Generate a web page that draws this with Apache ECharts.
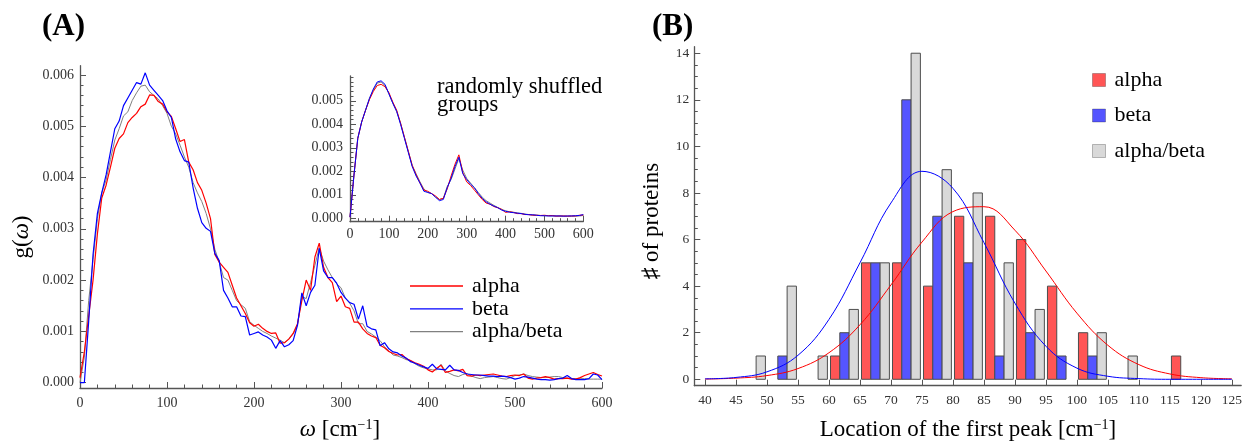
<!DOCTYPE html>
<html>
<head>
<meta charset="utf-8">
<script src="https://cdn.jsdelivr.net/npm/echarts@6/dist/echarts.min.js"></script>
<style>
  html, body { margin: 0; padding: 0; background: #fff; }
  #chart { width: 1245px; height: 447px; }
</style>
</head>
<body>
<div id="chart"></div>
<script>
// ---------- data ----------
// panel A: g(omega), values in units of 1e-4, omega = 0..600 step 5
const omega = [];
for (let w = 0; w <= 600; w += 5) omega.push(w);

const alphaMain = [
  1, 6, 13, 20, 29, 36, 38.5, 42, 45.7, 47.6,
  48.5, 50.7, 51.7, 52.5, 53.8, 54.3, 56.1, 56, 54.8, 54.3,
  52.8, 51.9, 49.5, 47, 47.4, 43, 41.5, 39, 37.5, 35,
  32, 25, 23.5, 22.5, 21.5, 19, 16.5, 15, 13.5, 11.7,
  11, 11.4, 10.6, 10, 9.6, 9.7, 7.7, 7.8, 8.5, 9.6,
  11.5, 16, 20, 18, 24.5, 27.2, 22.5, 20.5, 19.5, 15.8,
  16.9, 14.8, 14.5, 11.8, 11.8, 10.5, 9.6, 9.1, 8.8, 7.3,
  6.8, 6.1, 5.7, 5.4, 5.5, 4.7, 4.3, 3.9, 3.6, 3.2,
  2.5, 2.1, 2.8, 3.4, 2.0, 2.2, 2.5, 2.3, 2.6, 1.4,
  1.3, 1.5, 1.4, 1.5, 1.6, 1.7, 1.5, 1.3, 1.2, 1.4,
  1.5, 1.4, 1.7, 0.9, 0.7, 0.9, 1.0, 1.2, 1.0, 0.7,
  0.8, 0.8, 0.9, 0.7, 0.7, 1.0, 1.4, 1.7, 2.0, 1.6,
  1.3
];
const betaMain = [
  0, 0, 12, 25, 33, 37, 40.5, 45, 49.5, 51,
  54, 55.5, 57, 58.5, 58.2, 60.4, 58, 57, 56, 55,
  53, 51.7, 47.5, 45, 43.3, 43, 38, 34, 31.2, 30.1,
  29.5, 25.2, 23.8, 18, 16.5, 14.8, 14.8, 13, 12.9, 9.3,
  9.6, 9.9, 9.3, 8.9, 8.3, 6.7, 8.2, 7.0, 7.4, 8.2,
  11.2, 17.5, 15, 17.6, 19, 26.2, 21.8, 20.5, 20.5, 19.4,
  17.6, 16.5, 15.6, 15.3, 12.4, 15, 11, 10.5, 10.3, 7.2,
  7.8, 6.6, 6.0, 5.8, 5.2, 4.8, 4.1, 3.8, 3.4, 3.1,
  2.8, 3.6, 2.7, 2.6, 2.5, 3.4, 2.5, 2.4, 2.0, 1.7,
  1.6, 1.5, 1.5, 1.4, 1.3, 1.3, 1.2, 1.3, 1.2, 1.0,
  0.7, 0.9, 1.2, 1.1, 0.9, 0.7, 0.6, 0.6, 0.5, 0.6,
  0.8, 0.9, 1.4, 0.8, 0.6, 0.6, 0.6, 0.8, 1.7, 1.5,
  0.6
];
const mixedMain = [
  0, 5, 16, 24, 32, 37, 39.5, 43.5, 47.3, 49.5,
  52, 52.8, 55, 56.5, 57.8, 58, 56.7, 56, 55.3, 54,
  52.5, 50, 48.5, 46.3, 44, 42, 39, 37, 35.3, 33,
  30, 26, 23.5, 20.5, 20, 18, 16, 15.2, 14.5, 11.9,
  11.2, 10.6, 10, 9.6, 9.1, 8.7, 8.3, 7.8, 8.5, 9.5,
  11.3, 16.8, 16.4, 19.5, 22.9, 26.3, 23.7, 22, 20.5, 19.3,
  18.5, 16.5, 15.5, 14, 11.5, 11.5, 10, 9.5, 8.9, 8.2,
  7.0, 6.2, 5.4, 5.2, 4.9, 4.5, 4.3, 3.7, 3.2, 2.9,
  2.7, 2.5, 2.5, 3.6, 2.3, 1.8, 1.4, 1.2, 1.6, 1.8,
  1.3, 1.0, 0.8, 1.0, 1.1, 1.2, 1.0, 0.8, 0.7, 1.0,
  1.4, 1.5, 1.7, 1.4, 1.2, 1.1, 1.0, 1.0, 1.1, 1.2,
  1.2, 1.0, 0.9, 0.8, 0.8, 0.8, 0.8, 0.7, 0.7, 0.7,
  0.7
];

// inset (randomly shuffled groups), units of 1e-4, omega = 0..600 step 10
const omegaInset = [];
for (let w = 0; w <= 600; w += 10) omegaInset.push(w);

const alphaInset = [
  0.5, 18, 34, 41, 46, 50.5, 54, 56.5, 57, 56,
  53.5, 49.5, 46, 40.5, 34.5, 28.5, 22.5, 18.5, 15, 12,
  11.5, 10.5, 9.5, 8, 8.5, 12.5, 18, 23, 27, 19.5,
  15.5, 14, 12, 10, 8, 6.5, 6, 5, 4.5, 3.8,
  2.5, 2.8, 2.5, 2.0, 2.0, 1.6, 1.6, 1.3, 1.3, 1.2,
  1.3, 1.1, 1.2, 0.9, 1.0, 1.0, 0.9, 1.0, 1.0, 1.3,
  1.4
];
const betaInset = [
  0.5, 18, 34, 41, 46, 51, 55, 58, 58.5, 57,
  53, 49, 45.5, 40, 34, 28, 22, 18, 15, 11.5,
  11, 10.5, 9, 7.5, 8, 13, 17, 22, 26, 19,
  16.5, 14.5, 13, 10.5, 8.5, 7, 6, 5.2, 4.5, 3.5,
  3.0, 2.6, 2.4, 2.2, 2.0, 1.7, 1.5, 1.5, 1.3, 1.1,
  1.1, 1.0, 1.0, 1.0, 1.0, 0.9, 1.0, 1.0, 1.1, 1.2,
  1.6
];
const mixedInset = [
  0.5, 18, 34, 41, 46, 51, 54.5, 57.5, 58, 56.5,
  53, 49, 45.5, 40.5, 34.5, 28.5, 22.5, 19, 15.5, 12.5,
  11, 10.5, 9, 8, 8.5, 13.5, 16.5, 21, 25.5, 20.5,
  17, 15, 13, 11, 9, 7.5, 6.5, 5.5, 4.6, 3.8,
  3.2, 2.8, 2.6, 2.3, 2.1, 1.8, 1.6, 1.4, 1.3, 1.2,
  1.1, 1.1, 1.0, 1.0, 0.9, 0.9, 0.9, 0.9, 0.9, 1.0,
  1.2
];

// panel B: histogram of first-peak location, 5 cm^-1 bins
const binStarts   = [45, 50, 55, 60, 65, 70, 75, 80, 85, 90, 95, 100, 105, 110, 115];
const alphaCounts = [0, 0, 0, 1, 5, 5, 4, 7, 7, 6, 4, 2, 0, 0, 1];
const betaCounts  = [0, 1, 0, 2, 5, 12, 7, 5, 1, 2, 1, 1, 0, 0, 0];
const mixedCounts = [1, 4, 1, 3, 5, 14, 9, 8, 5, 3, 0, 2, 1, 0, 0];

// fitted normal curves
const fitX     = [40, 45, 50, 55, 60, 65, 70, 75, 80, 85, 90, 95, 100, 105, 110, 115, 120, 125];
const alphaFit = [0.01, 0.05, 0.16, 0.46, 1.14, 2.34, 4.05, 5.89, 7.20, 7.41, 6.40, 4.65, 2.84, 1.46, 0.63, 0.23, 0.07, 0.02];
const betaFit  = [0.02, 0.08, 0.32, 1.03, 2.57, 5.00, 7.57, 8.93, 8.20, 5.87, 3.27, 1.42, 0.48, 0.13, 0.03, 0.00, 0.00, 0.00];

// tick labels
const aXTicks = [0, 100, 200, 300, 400, 500, 600];
const aYTicks = [0, 0.001, 0.002, 0.003, 0.004, 0.005, 0.006];
const insetYTicks = [0, 0.001, 0.002, 0.003, 0.004, 0.005];
const bXTicks = [40, 45, 50, 55, 60, 65, 70, 75, 80, 85, 90, 95, 100, 105, 110, 115, 120, 125];
const bYTicks = [0, 2, 4, 6, 8, 10, 12, 14];

// ---------- helpers ----------
const FONT = '"Liberation Serif", "Times New Roman", "DejaVu Serif", serif';
const AXIS_COLOR = '#555';
const RED = '#ff0000', BLUE = '#0000ff', GRAY = '#808080';
const RED_BAR = '#ff5555', BLUE_BAR = '#5555ff', GRAY_BAR = '#d9d9d9';

function minorTicks(majors, step, from, to) {
  const out = [];
  for (let v = from; v <= to + step / 1000; v += step) {
    const r = +v.toFixed(6);
    if (!majors.some(m => Math.abs(m - r) < step / 1000)) out.push(r);
  }
  return out;
}

function axis(o) {
  return {
    type: 'value',
    gridIndex: o.grid,
    position: o.pos,
    min: o.min,
    max: o.max,
    splitLine: { show: false },
    axisLine: { show: !o.minor, onZero: false, lineStyle: { color: AXIS_COLOR, width: 1.3 } },
    axisTick: {
      show: true, inside: true, length: o.minor ? 3.5 : 6,
      customValues: o.ticks,
      lineStyle: { color: AXIS_COLOR, width: 1 }
    },
    axisLabel: o.minor ? { show: false } : {
      show: true,
      customValues: o.ticks,
      formatter: o.fmt,
      margin: o.margin,
      color: '#333',
      fontFamily: FONT,
      fontSize: o.fontSize || 14
    }
  };
}

const fmt3 = v => v.toFixed(3);
const fmt0 = v => String(Math.round(v));

function lineSeries(name, xi, yi, xs, ys, color, width, extra) {
  return Object.assign({
    name: name,
    type: 'line',
    xAxisIndex: xi,
    yAxisIndex: yi,
    data: xs.map((x, i) => [x, ys[i]]),
    showSymbol: false,
    symbol: 'none',
    itemStyle: { color: color },
    lineStyle: { color: color, width: width },
    silent: true
  }, extra || {});
}

const scale = arr => arr.map(v => v * 1e-4);

// bars: three sub-bars inside each 5-unit bin
const BAR_W = 1.5;
function barSeries(name, counts, offset, color) {
  return {
    name: name,
    type: 'custom',
    xAxisIndex: 4,
    yAxisIndex: 4,
    itemStyle: { color: color },
    data: binStarts.map((b, i) => [b + offset, counts[i]]).filter(d => d[1] > 0),
    encode: { x: 0, y: 1 },
    renderItem: function (params, api) {
      const x = api.value(0), v = api.value(1);
      const p0 = api.coord([x - BAR_W / 2, v]);
      const p1 = api.coord([x + BAR_W / 2, 0]);
      return {
        type: 'rect',
        shape: { x: p0[0], y: p0[1], width: p1[0] - p0[0], height: p1[1] - p0[1] },
        style: { fill: color, stroke: '#4d4d4d', lineWidth: 1 }
      };
    },
    z: 2
  };
}

// ---------- chart ----------
const chart = echarts.init(document.getElementById('chart'), null, { renderer: 'canvas' });

const option = {
  animation: false,
  backgroundColor: '#fff',
  grid: [
    { left: 80, top: 65.7, width: 522, height: 322.3 },
    { left: 350, top: 76, width: 233.3, height: 145.7 },
    { left: 694.3, top: 46.7, width: 548.7, height: 339 }
  ],
  xAxis: [
    axis({ grid: 0, pos: 'bottom', min: 0, max: 600, ticks: aXTicks, fmt: fmt0, margin: 8 }),
    axis({ grid: 0, pos: 'bottom', min: 0, max: 600, ticks: minorTicks(aXTicks, 20, 0, 600), minor: true }),
    axis({ grid: 1, pos: 'bottom', min: 0, max: 600, ticks: aXTicks, fmt: fmt0, margin: 6 }),
    axis({ grid: 1, pos: 'bottom', min: 0, max: 600, ticks: minorTicks(aXTicks, 20, 0, 600), minor: true }),
    axis({ grid: 2, pos: 'bottom', min: 38.277, max: 126.5, ticks: bXTicks, fmt: fmt0, margin: 8, fontSize: 13.5 })
  ],
  yAxis: [
    axis({ grid: 0, pos: 'left', min: -0.000103, max: 0.006179, ticks: aYTicks, fmt: fmt3, margin: 6 }),
    axis({ grid: 0, pos: 'left', min: -0.000103, max: 0.006179, ticks: minorTicks(aYTicks, 0.0002, 0, 0.0061), minor: true }),
    axis({ grid: 1, pos: 'left', min: -0.000145, max: 0.006055, ticks: insetYTicks, fmt: fmt3, margin: 7 }),
    axis({ grid: 1, pos: 'left', min: -0.000145, max: 0.006055, ticks: minorTicks(insetYTicks, 0.0002, 0, 0.006), minor: true }),
    axis({ grid: 2, pos: 'left', min: -0.275, max: 14.28, ticks: bYTicks, fmt: fmt0, margin: 5, fontSize: 13.5 }),
    axis({ grid: 2, pos: 'left', min: -0.275, max: 14.28, ticks: minorTicks(bYTicks, 0.5, 0, 14), minor: true })
  ],
  legend: [
    {
      left: 410, top: 275, orient: 'vertical', padding: 0,
      data: ['alpha', 'beta', 'alpha/beta'],
      icon: 'rect', itemWidth: 53, itemHeight: 1.3, itemGap: 0.8,
      selectedMode: false,
      textStyle: { fontFamily: FONT, fontSize: 22, color: '#000', padding: [0, 0, 0, 4] }
    },
    {
      left: 1092, top: 69, orient: 'vertical', padding: 0,
      data: ['alpha (B)', 'beta (B)', 'alpha/beta (B)'],
      icon: 'rect', itemWidth: 13, itemHeight: 13, itemGap: 13.5,
      selectedMode: false,
      formatter: n => n.replace(' (B)', ''),
      itemStyle: { borderColor: 'rgba(0,0,0,0.25)', borderWidth: 1 },
      textStyle: { fontFamily: FONT, fontSize: 22, color: '#000', padding: [0, 0, 0, 4] }
    }
  ],
  graphic: [
    { type: 'text', x: 42, y: 27, style: { text: '(A)', fontFamily: FONT, fontWeight: 'bold', fontSize: 31, fill: '#000', verticalAlign: 'middle' } },
    { type: 'text', x: 652, y: 27, style: { text: '(B)', fontFamily: FONT, fontWeight: 'bold', fontSize: 31, fill: '#000', verticalAlign: 'middle' } },
    {
      type: 'text', x: 437, y: 96, style: {
        text: 'randomly shuffled\ngroups', fontFamily: FONT, fontSize: 22.5, fill: '#000',
        lineHeight: 18.5, verticalAlign: 'middle'
      }
    },
    {
      type: 'text', x: 340, y: 430, style: {
        text: '{i|ω} [cm{s|−1}]', fontFamily: FONT, fontSize: 23, fill: '#000',
        align: 'center', verticalAlign: 'middle',
        rich: { i: { fontStyle: 'italic', fontFamily: FONT, fontSize: 23 }, s: { fontSize: 14, fontFamily: FONT, verticalAlign: 'top' } }
      }
    },
    {
      type: 'text', x: 968, y: 430, style: {
        text: 'Location of the first peak [cm{s|−1}]', fontFamily: FONT, fontSize: 23, fill: '#000',
        align: 'center', verticalAlign: 'middle',
        rich: { s: { fontSize: 14, fontFamily: FONT, verticalAlign: 'top' } }
      }
    },
    {
      type: 'text', x: 22, y: 237, rotation: Math.PI / 2, style: {
        text: 'g({i|ω})', fontFamily: FONT, fontSize: 23, fill: '#000',
        align: 'center', verticalAlign: 'middle',
        rich: { i: { fontStyle: 'italic', fontFamily: FONT, fontSize: 23 } }
      }
    },
    {
      type: 'text', x: 652, y: 221, rotation: Math.PI / 2, style: {
        text: '♯ of proteins', fontFamily: FONT, fontSize: 23, fill: '#000',
        align: 'center', verticalAlign: 'middle'
      }
    }
  ],
  series: [
    lineSeries('alpha/beta', 0, 0, omega, scale(mixedMain), GRAY, 1),
    lineSeries('alpha', 0, 0, omega, scale(alphaMain), RED, 1.2),
    lineSeries('beta', 0, 0, omega, scale(betaMain), BLUE, 1.2),

    lineSeries('alpha/beta (inset)', 2, 2, omegaInset, scale(mixedInset), GRAY, 1),
    lineSeries('alpha (inset)', 2, 2, omegaInset, scale(alphaInset), RED, 1),
    lineSeries('beta (inset)', 2, 2, omegaInset, scale(betaInset), BLUE, 1),

    barSeries('alpha (B)', alphaCounts, 1.0, RED_BAR),
    barSeries('beta (B)', betaCounts, 2.5, BLUE_BAR),
    barSeries('alpha/beta (B)', mixedCounts, 4.0, GRAY_BAR),

    lineSeries('alpha fit', 4, 4, fitX, alphaFit, RED, 1, { smooth: 0.4, z: 5 }),
    lineSeries('beta fit', 4, 4, fitX, betaFit, BLUE, 1, { smooth: 0.4, z: 5 })
  ]
};

chart.setOption(option);
</script>
</body>
</html>
